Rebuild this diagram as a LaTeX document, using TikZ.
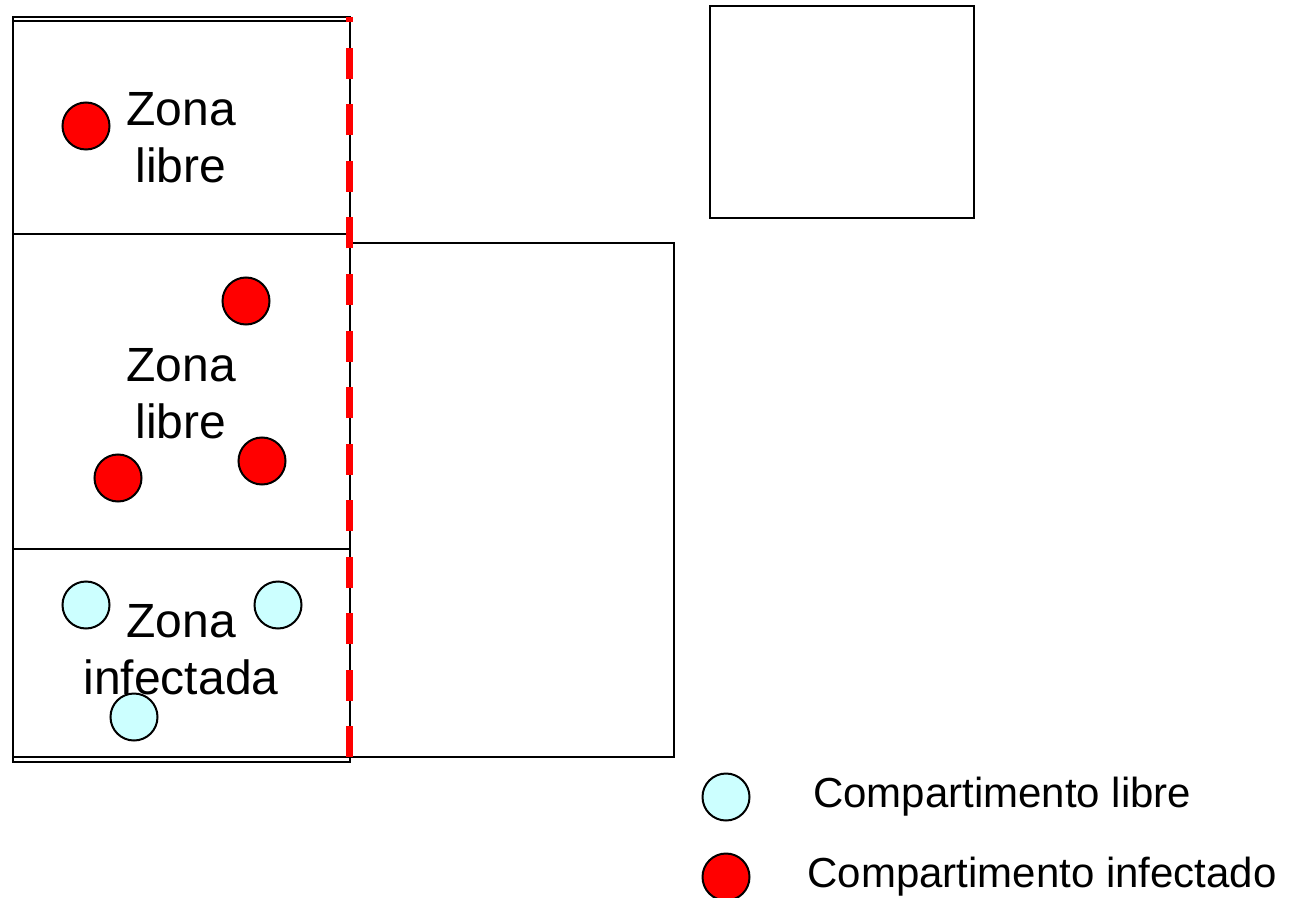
\documentclass[tikz,border=0pt]{standalone}
\usepackage{fontspec}
\setmainfont{Liberation Sans}
\usepackage{xcolor}
\usetikzlibrary{positioning}

\definecolor{celeste}{HTML}{CCFFFF}
\tikzset{
  comp/.style={circle,draw=black,line width=1pt,minimum size=23.5pt,inner sep=0pt},
  infect/.style={comp,fill=red},
  libre/.style={comp,fill=celeste},
  zona/.style={align=center,inner sep=0pt,font=\fontsize{24}{28.5}\selectfont},
  leyenda/.style={inner sep=0pt,font=\fontsize{21}{25}\selectfont}
}

\begin{document}
\begin{tikzpicture}[x=0.5pt,y=-0.5pt,line width=1pt,node distance=30pt]
   \useasboundingbox (0,0) rectangle (1299,898);
   % zonas
   \draw (13,17) rectangle (350,762);
   \draw (13,21) rectangle (350,234);
   \draw (13,234) rectangle (350,549);
   \draw (13,549) rectangle (350,757);
   \draw (350,243) rectangle (674,757);
   \draw (710,6) rectangle (974,218);
   % frontera
   \coordinate (fin) at (349,757);
   \coordinate (ini) at (349,17);
   \draw[red,line width=3.5pt,dash pattern=on 15.5pt off 12.75pt] (fin) -- (ini);
   % compartimentos
   \node[infect] (r1) at (86,126) {};
   \node[infect] (r2) at (246,301) {};
   \node[infect] (r3) at (262,461) {};
   \node[infect] (r4) at (118,478) {};
   \node[libre] (c1) at (86,605) {};
   \node[libre] (c2) at (278,605) {};
   \node[libre] (c3) at (134,717) {};
   \node[zona] (z1) at (181,138) {Zona\\libre};
   \node[zona] (z2) at (181,394) {Zona\\libre};
   \node[zona] (z3) at (181,650) {Zona\\infectada};
   % leyenda
   \node[libre] (kl) at (726,797) {};
   \node[infect] (ki) at (726,877) {};
   \node[leyenda] (tl) [right=30.75pt of kl] {Compartimento libre};
   \node[leyenda] (ti) [right=28pt of ki] {Compartimento infectado};
\end{tikzpicture}
\end{document}
